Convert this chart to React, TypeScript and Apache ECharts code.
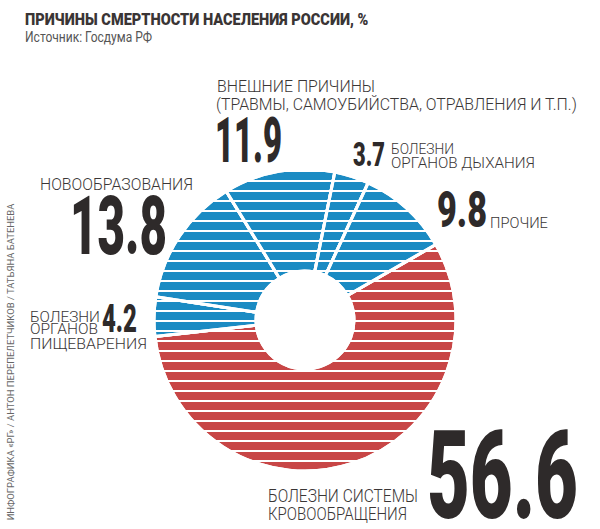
import React, { useEffect, useRef } from 'react';
import * as echarts from 'echarts';

// ---- data ----
const causes = [
  'Болезни системы кровообращения',
  'Болезни органов пищеварения',
  'Новообразования',
  'Внешние причины (травмы, самоубийства, отравления и т.п.)',
  'Болезни органов дыхания',
  'Прочие',
];
const shares = [56.6, 4.2, 13.8, 11.9, 3.7, 9.8];
const sliceColors = ['#c84646', '#1b8bc3', '#1b8bc3', '#1b8bc3', '#1b8bc3', '#1b8bc3'];
const labelLines = [
  ['БОЛЕЗНИ СИСТЕМЫ', 'КРОВООБРАЩЕНИЯ'],
  ['БОЛЕЗНИ', 'ОРГАНОВ', 'ПИЩЕВАРЕНИЯ'],
  ['НОВООБРАЗОВАНИЯ'],
  ['ВНЕШНИЕ ПРИЧИНЫ', '(ТРАВМЫ, САМОУБИЙСТВА, ОТРАВЛЕНИЯ И Т.П.)'],
  ['БОЛЕЗНИ', 'ОРГАНОВ ДЫХАНИЯ'],
  ['ПРОЧИЕ'],
];
const titleText = 'ПРИЧИНЫ СМЕРТНОСТИ НАСЕЛЕНИЯ РОССИИ, %';
const sourceText = 'Источник: Госдума РФ';
const creditText = 'ИНФОГРАФИКА «РГ» / АНТОН ПЕРЕПЕЛЕТЧИКОВ / ТАТЬЯНА БАТЕНЕВА';

// ---- layout: [left, capTop, capBottom, width] ----
const numberBoxes = [
  [427, 433, 520, 151],
  [102, 305, 333, 35],
  [70, 197, 255, 97],
  [215, 118, 163, 67],
  [353, 143, 167, 32],
  [437, 192, 228, 50],
];
const lineBoxes = [
  [[268, 489, 502, 150], [268, 507, 520, 139]],
  [[30, 311, 322, 70], [30, 324, 335, 68], [30, 338, 349, 117]],
  [[40, 178, 190, 153]],
  [[217, 80, 92, 158], [216, 98, 110, 361]],
  [[391, 143, 154, 63], [391, 157, 168, 144]],
  [[490, 217, 228, 58]],
];

const FONT = 'Roboto';
const CAP = 0.711;

export default function App() {
  const ref = useRef<HTMLDivElement>(null);

  useEffect(() => {
    if (!ref.current) return;
    const chart = echarts.init(ref.current, undefined, { renderer: 'svg' });
    const ctx = document.createElement('canvas').getContext('2d')!;
    const measure = (text: string, fs: number, weight: string | number) => {
      ctx.font = `${weight} ${fs}px ${FONT}`;
      return ctx.measureText(text).width;
    };
    const fit = (
      text: string,
      box: number[],
      weight: string | number,
      fill: string
    ) => {
      const [x, top, bottom, width] = box;
      const fs = (bottom - top) / CAP;
      const w = measure(text, fs, weight);
      return {
        type: 'text',
        x,
        y: (top + bottom) / 2,
        scaleX: width / w,
        silent: true,
        style: {
          text,
          fontSize: fs,
          fontWeight: weight,
          fontFamily: FONT,
          lineHeight: Math.ceil(fs * 0.78),
          fill,
          align: 'left',
          verticalAlign: 'middle',
        },
      };
    };

    const graphics: any[] = [];
    graphics.push(fit(titleText, [25, 13, 25, 343], 900, '#3a3535'));
    graphics.push(fit(sourceText, [25, 32, 42, 127], 'normal', '#555555'));
    shares.forEach((v, i) => {
      graphics.push(fit(v.toFixed(1), numberBoxes[i], 900, '#2e2a2a'));
      labelLines[i].forEach((line, j) => {
        graphics.push(fit(line, lineBoxes[i][j], 300, '#3a3636'));
      });
    });
    const cfs = 9;
    const cw = measure(creditText, cfs, 'normal');
    graphics.push({
      type: 'text',
      x: 11,
      y: 362,
      rotation: Math.PI / 2,
      scaleX: 317 / cw,
      silent: true,
      style: {
        text: creditText,
        fontSize: cfs,
        fontFamily: FONT,
        fill: '#666666',
        align: 'center',
        verticalAlign: 'middle',
      },
    });

    chart.setOption({
      animation: false,
      backgroundColor: '#ffffff',
      series: [
        {
          type: 'pie',
          center: [305, 320],
          radius: [49, 151],
          startAngle: 30,
          clockwise: true,
          silent: true,
          label: { show: false },
          labelLine: { show: false },
          emphasis: { disabled: true },
          itemStyle: {
            borderColor: '#ffffff',
            borderWidth: 3,
            decal: {
              symbol: 'rect',
              symbolSize: 1,
              dashArrayX: [1, 0],
              dashArrayY: [2, 8],
              rotation: 0,
              color: '#ffffff',
            },
          },
          data: shares.map((v, i) => ({
            name: causes[i],
            value: v,
            itemStyle: { color: sliceColors[i] },
          })),
        },
      ],
      graphic: graphics,
    });
    return () => chart.dispose();
  }, []);

  return (
    <div
      ref={ref}
      style={{ position: 'absolute', left: 0, top: 0, width: 600, height: 529 }}
    />
  );
}
